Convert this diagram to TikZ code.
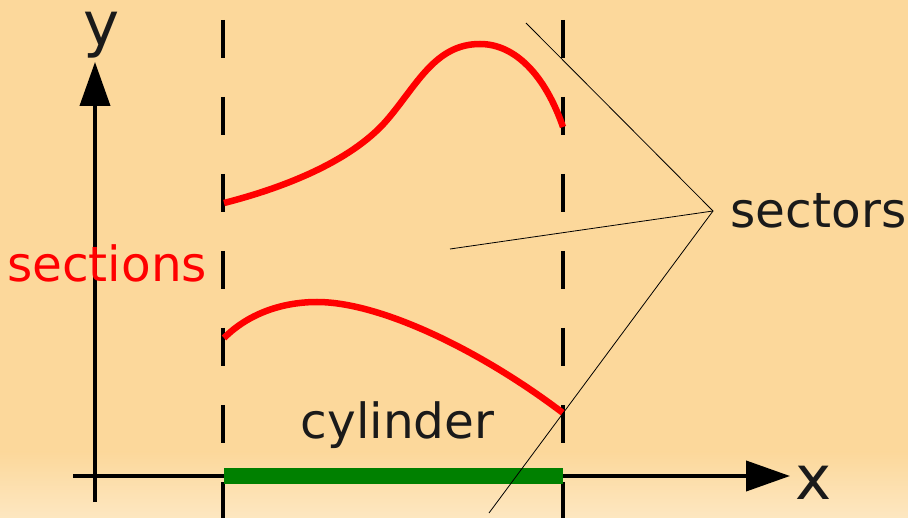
\documentclass[tikz,border=0pt]{standalone}
\usepackage{fontspec}
\setmainfont{DejaVu Sans}
\usetikzlibrary{arrows.meta}
\definecolor{bg}{RGB}{252,216,155}
\definecolor{bglight}{RGB}{253,231,193}
\definecolor{ink}{RGB}{26,26,26}
\definecolor{bargreen}{RGB}{0,128,0}
\tikzset{
  axis/.style={line width=4pt, -{Triangle[length=44pt,width=30pt]}},
  guide/.style={line width=3.5pt, dash pattern=on 38pt off 39pt},
  section/.style={line width=6.5pt, red},
  pointer/.style={line width=0.8pt, black},
  lbl/.style={inner sep=0pt, anchor=base west, text=ink, font=\fontsize{48.5}{58}\selectfont},
  axlbl/.style={inner sep=0pt, anchor=base west, text=ink, font=\fontsize{61}{70}\selectfont}
}
\begin{document}
\begin{tikzpicture}[x=1pt,y=-1pt]
\fill[bg] (0,0) rectangle (908,518);
\shade[top color=bg, bottom color=bglight] (0,452) rectangle (908,518);
\useasboundingbox (0,0) rectangle (908,518);
% guide lines
\coordinate (g1t) at (223,20);
\coordinate (g1b) at (223,520);
\coordinate (g2t) at (563,20);
\coordinate (g2b) at (563,520);
\draw[guide] (g1t) -- (g1b);
\draw[guide] (g2t) -- (g2b);
% axes
\coordinate (yb) at (95,502);
\coordinate (yt) at (95,62);
\coordinate (xl) at (73,476);
\coordinate (xr) at (790,476);
\draw[axis] (yb) -- (yt);
\draw[axis] (xl) -- (xr);
% cylinder bar
\fill[bargreen] (224,468) rectangle (563,484);
% sections
\draw[section] (224,203) .. controls (279,189) and (350,163) .. (387,120)
  .. controls (417,85) and (435,44) .. (480,44)
  .. controls (515,44) and (545,75) .. (563,127);
\draw[section] (224,338) .. controls (250,312) and (285,302) .. (317,302)
  .. controls (380,302) and (480,350) .. (563,413);
% labels
\node[axlbl] (ylab) at (83,46) {y};
\node[axlbl] (xlab) at (795,499) {x};
\node[lbl, text=red] (sections) at (7,282) {sections};
\node[lbl] (cylinder) at (300.5,439) {cylinder};
\node[lbl] (sectors) at (730.5,228) {sectors};
% pointers
\coordinate (apex) at (713,211);
\coordinate (p1) at (526,23);
\coordinate (p2) at (450,249);
\coordinate (p3) at (489,513);
\draw[pointer] (p1) -- (apex) -- (p3);
\draw[pointer] (p2) -- (apex);
\end{tikzpicture}
\end{document}
